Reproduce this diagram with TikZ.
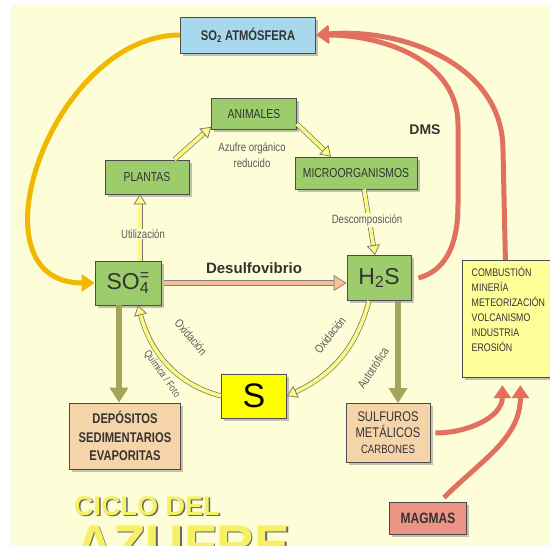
\documentclass[tikz,border=0pt]{standalone}
\usepackage{fontspec}
\setmainfont{Liberation Sans}
\newfontfamily\narrowfont[FakeStretch=0.8]{Liberation Sans}
\usetikzlibrary{arrows.meta,shadows}
\definecolor{bgyellow}{RGB}{253,253,216}
\definecolor{boxgreen}{RGB}{156,204,108}
\definecolor{boxblue}{RGB}{168,216,236}
\definecolor{boxtan}{RGB}{246,212,169}
\definecolor{boxsalmon}{RGB}{238,148,132}
\definecolor{boxlight}{RGB}{255,255,153}
\definecolor{boxsulfur}{RGB}{255,255,0}
\definecolor{arrorange}{RGB}{242,183,0}
\definecolor{arrred}{RGB}{226,112,94}
\definecolor{arrolive}{RGB}{164,164,90}
\definecolor{arrpale}{RGB}{252,250,130}
\definecolor{arrpeach}{RGB}{248,190,150}
\definecolor{titleyellow}{RGB}{245,240,100}

\begin{document}
\begin{tikzpicture}[x=1pt,y=-1pt]
\tikzstyle{box}=[draw=black!70, line width=0.8pt, inner sep=2pt, align=center,
                 text=black!80, drop shadow={shadow xshift=2.5pt, shadow yshift=-2.5pt, fill=black!40, opacity=.6}]
\tikzstyle{greenbox}=[box, fill=boxgreen, font=\narrowfont\fontsize{13}{14}\selectfont]
\tikzstyle{tanbox}=[box, fill=boxtan]
\tikzstyle{note}=[text=black!65, align=center, font=\narrowfont\fontsize{12}{16}\selectfont]
\tikzstyle{curvenote}=[text=black!65, font=\narrowfont\fontsize{12}{13}\selectfont, inner sep=0.5pt]
\tikzstyle{bigarrow}=[line width=5pt, -{Triangle[length=13pt,width=17pt]}]
\tikzstyle{palearrow}=[draw=arrpale, line width=3.6pt,
                       -{Triangle[length=10pt,width=13pt,fill=arrpale,color=black!55,line width=0.7pt]},
                       preaction={draw=black!55, line width=5pt, arrows=-, shorten >=9pt}]
\tikzstyle{titletext}=[inner sep=0pt, anchor=base west]
\useasboundingbox (0,0) rectangle (550,546);
\clip (0,0) rectangle (550,546);
\fill[bgyellow] (11,5) rectangle (550,546);

\node[box, fill=boxblue, minimum width=135pt, minimum height=36pt,
      font=\narrowfont\bfseries\fontsize{14}{15}\selectfont] (atm) at (248,35) {SO\textsubscript{2} ATMÓSFERA};
\node[greenbox, minimum width=85pt, minimum height=31pt] (anim) at (254,114) {ANIMALES};
\node[greenbox, minimum width=84pt, minimum height=34pt] (plant) at (147,177) {PLANTAS};
\node[greenbox, minimum width=122pt, minimum height=32pt] (micro) at (356,173) {MICROORGANISMOS};
\node[greenbox, minimum width=66pt, minimum height=44pt, font=\fontsize{23}{24}\selectfont] (so4) at (128,283)
     {SO\rlap{\textsuperscript{=}}\textsubscript{4}};
\node[greenbox, minimum width=64pt, minimum height=45pt, font=\fontsize{23}{24}\selectfont] (hs) at (379,278)
     {H\textsubscript{2}S};
\node[box, fill=boxsulfur, minimum width=65pt, minimum height=44pt, text=black,
      font=\fontsize{34}{34}\selectfont] (s) at (254,396) {S};
\node[tanbox, minimum width=111pt, minimum height=66pt,
      font=\narrowfont\bfseries\fontsize{14}{18.5}\selectfont] (dep) at (125,436) {DEPÓSITOS\\SEDIMENTARIOS\\EVAPORITAS};
\node[tanbox, minimum width=84pt, minimum height=59pt,
      font=\narrowfont\fontsize{14}{16}\selectfont] (sulf) at (388,433) {SULFUROS\\METÁLICOS\\{\fontsize{12}{16}\selectfont CARBONES}};
\node[box, fill=boxlight, minimum width=92pt, minimum height=112pt, align=left, anchor=west, inner sep=7pt,
      font=\narrowfont\fontsize{11}{15}\selectfont] (comb) at (462,319)
     {COMBUSTIÓN\\MINERÍA\\METEORIZACIÓN\\VOLCANISMO\\INDUSTRIA\\EROSIÓN\\[4pt]};
\node[box, fill=boxsalmon, minimum width=77pt, minimum height=32pt,
      font=\narrowfont\bfseries\fontsize{15}{16}\selectfont] (mag) at (428,518) {MAGMAS};

\node[note] (azred) at (252,155) {Azufre orgánico\\reducido};
\node[text=black!80, font=\bfseries\fontsize{15}{16}\selectfont] (desul) at (254,268) {Desulfovibrio};
\node[text=black!80, font=\bfseries\fontsize{14}{16}\selectfont] (dms) at (425,130) {DMS};

\coordinate (dmsbend) at (458,205);
\coordinate (dmstop) at (458,125);
\coordinate (combtop) at (503,150);

\draw[bigarrow, draw=arrorange] (atm.west) to[out=180,in=180,looseness=1.25] (so4.west);
\draw[bigarrow, draw=arrred] ([xshift=-3pt]comb.north) -- (combtop) to[out=90,in=5] (atm.east);
\draw[bigarrow, draw=arrred] ([xshift=7pt]hs.east) to[out=15,in=-90] (dmsbend) -- (dmstop) to[out=90,in=0] (atm.east);
\draw[bigarrow, draw=arrred] ([xshift=5pt]sulf.east) to[out=0,in=-90] ([xshift=-6pt,yshift=-7pt]comb.south);
\draw[bigarrow, draw=arrred] ([xshift=16pt,yshift=4pt]mag.north) to[out=45,in=-90] ([xshift=12pt,yshift=-7pt]comb.south);
\draw[line width=6pt, draw=arrolive, -{Triangle[length=15pt,width=18pt]}] ([xshift=-9pt]so4.south) -- ([xshift=-6pt]dep.north);
\draw[line width=6pt, draw=arrolive, -{Triangle[length=15pt,width=18pt]}] ([xshift=19pt]hs.south) -- ([xshift=10pt]sulf.north);
\draw[draw=arrpeach, line width=4pt,
      -{Triangle[length=13pt,width=16pt,fill=arrpeach,color=black!50,line width=0.7pt]},
      preaction={draw=black!50, line width=5.4pt, arrows=-, shorten >=12pt}]
     ([xshift=3pt]so4.east) -- (so4.east -| hs.west);

\draw[palearrow] ([xshift=-15pt]plant.north east) -- ([yshift=3pt]anim.south west);
\draw[palearrow] ([yshift=6pt]anim.south east) -- ([xshift=-25pt]micro.north);
\draw[palearrow] ([xshift=8pt]micro.south) -- ([xshift=-4pt]hs.north);
\draw[palearrow] ([xshift=12pt]so4.north) -- ([xshift=-7pt]plant.south);
\draw[palearrow] ([xshift=-10pt]hs.south) to[out=-105,in=25] (s.east);
\draw[palearrow] (s.west) to[out=165,in=-75] ([xshift=10pt]so4.south);
\node[note, fill=bgyellow, inner sep=1pt] (util) at (143,234) {Utilización};
\node[note, fill=bgyellow, inner sep=1pt] (desc) at (367,220) {Descomposición};

\node[curvenote, rotate=-50] (oxq) at (191,337) {Oxidación};
\node[curvenote, rotate=-55, font=\narrowfont\fontsize{10.5}{11}\selectfont] (quim) at (162,374) {Química / Foto};
\node[curvenote, rotate=52] (oxa) at (330,335) {Oxidación};
\node[curvenote, rotate=56] (auto) at (373,368) {Autotrófica};

\node[titletext, text=black!60, font=\bfseries\fontsize{27}{28}\selectfont] (ciclosh) at (75.5,516.5) {CICLO DEL};
\node[titletext, text=titleyellow, font=\bfseries\fontsize{27}{28}\selectfont] (ciclo) at (74,515) {CICLO DEL};
\node[titletext, text=black!60, font=\bfseries\fontsize{53}{54}\selectfont] (azufresh) at (76.5,563.5) {AZUFRE};
\node[titletext, text=titleyellow, font=\bfseries\fontsize{53}{54}\selectfont] (azufre) at (75,562) {AZUFRE};
\end{tikzpicture}
\end{document}
